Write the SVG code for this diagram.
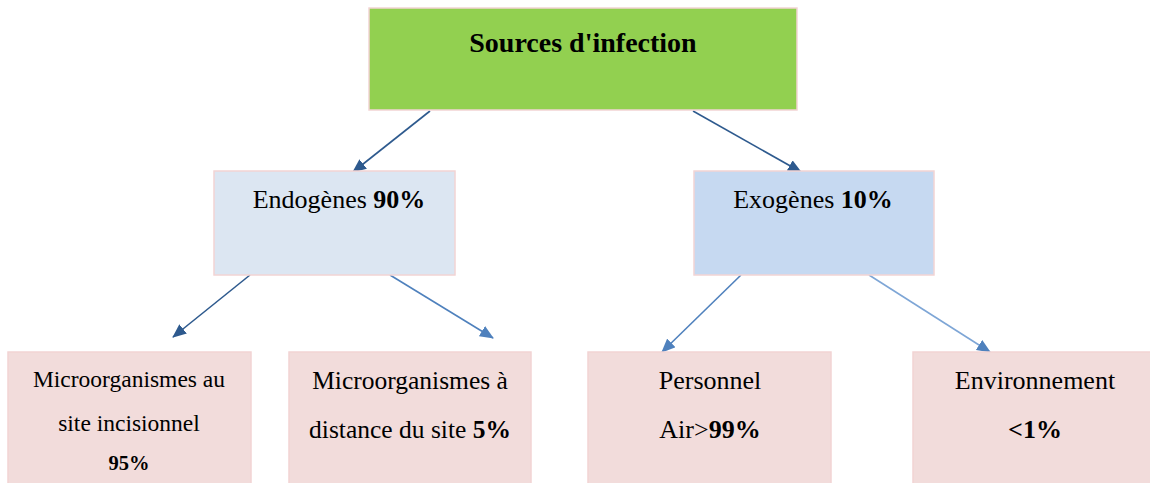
<svg xmlns="http://www.w3.org/2000/svg" width="1150" height="483" viewBox="0 0 1150 483">
<style>
.box{stroke:#f2d4d4;stroke-width:1.5}
.t{font-family:"Liberation Serif",serif;fill:#000;text-anchor:middle}
.b{font-weight:bold}
.c{fill:none;stroke-width:1.6}
</style>
<defs>
<marker id="ad" viewBox="0 0 14 12" refX="13" refY="6" markerWidth="14" markerHeight="12" markerUnits="userSpaceOnUse" orient="auto"><path d="M0,0 L14,6 L0,12 z" fill="#2e5a8e"/></marker>
<marker id="al" viewBox="0 0 14 12" refX="13" refY="6" markerWidth="14" markerHeight="12" markerUnits="userSpaceOnUse" orient="auto"><path d="M0,0 L14,6 L0,12 z" fill="#4f81bd"/></marker>
</defs>
<rect width="1150" height="483" fill="#fff"/>
<g id="connectors">
<line class="c" x1="430" y1="111" x2="353" y2="172" stroke="#2e5a8e" marker-end="url(#ad)"/>
<line class="c" x1="693" y1="111" x2="801" y2="172" stroke="#2e5a8e" marker-end="url(#ad)"/>
<line class="c" x1="250" y1="275" x2="173" y2="337" stroke="#2e5a8e" marker-end="url(#ad)"/>
<line class="c" x1="390" y1="275" x2="493" y2="338" stroke="#4f81bd" marker-end="url(#al)"/>
<line class="c" x1="741" y1="275" x2="662" y2="352" stroke="#4f81bd" marker-end="url(#al)"/>
<line class="c" x1="869" y1="275" x2="990" y2="352" stroke="#7ea6d6" marker-end="url(#al)"/>
</g>
<g id="root">
<rect class="box" x="369" y="8" width="428" height="102" fill="#92d050"/>
<text class="t b" x="583" y="52" font-size="28">Sources d'infection</text>
</g>
<g id="endo">
<rect class="box" x="214" y="171" width="241" height="104" fill="#dce6f2"/>
<text class="t" x="339" y="208" font-size="26">Endogènes <tspan class="b">90%</tspan></text>
</g>
<g id="exo">
<rect class="box" x="694" y="171" width="240" height="104" fill="#c6d9f1"/>
<text class="t" x="813" y="208" font-size="26">Exogènes <tspan class="b">10%</tspan></text>
</g>
<g id="micro-site">
<rect class="box" x="8" y="352" width="243" height="135" fill="#f2dcdb"/>
<text class="t" x="129" y="387" font-size="23.5">Microorganismes au</text>
<text class="t" x="129" y="431" font-size="23.5">site incisionnel</text>
<text class="t b" x="129" y="470" font-size="20.5">95%</text>
</g>
<g id="micro-distance">
<rect class="box" x="289" y="352" width="242" height="135" fill="#f2dcdb"/>
<text class="t" x="410" y="389" font-size="25.5">Microorganismes à</text>
<text class="t" x="410" y="438" font-size="25.5">distance du site <tspan class="b">5%</tspan></text>
</g>
<g id="personnel">
<rect class="box" x="588" y="352" width="243" height="135" fill="#f2dcdb"/>
<text class="t" x="710" y="389" font-size="26">Personnel</text>
<text class="t" x="710" y="438" font-size="26">Air&gt;<tspan class="b">99%</tspan></text>
</g>
<g id="environnement">
<rect class="box" x="913" y="352" width="243" height="135" fill="#f2dcdb"/>
<text class="t" x="1035" y="389" font-size="26">Environnement</text>
<text class="t b" x="1035" y="438" font-size="26">&lt;1%</text>
</g>
</svg>
